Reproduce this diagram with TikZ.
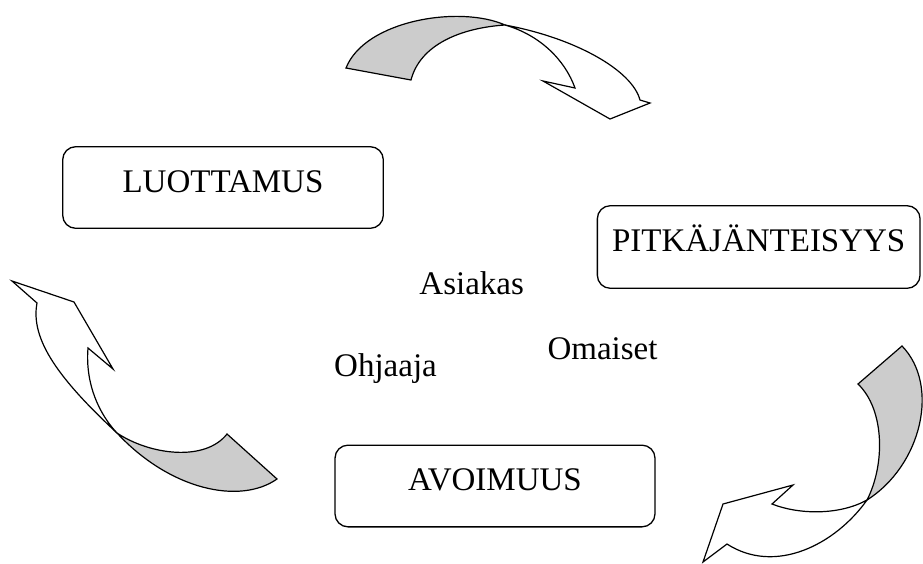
\documentclass[tikz,border=0pt]{standalone}
\usepackage{fontspec}
\setmainfont{Liberation Serif}
\usepackage{tikz}

\begin{document}
\begin{tikzpicture}[x=1pt,y=-1pt,
  every node/.style={font=\fontsize{33}{38}\selectfont},
  valuebox/.style={draw,line width=1.3pt,rounded corners=13pt,text height=21.8pt,text depth=12pt,inner sep=0pt},
  ribbon/.style={draw,fill=white,line width=1.2pt,line join=miter},
  backside/.style={draw,fill=black!20,line width=1.2pt,line join=miter}]
\useasboundingbox (0,0) rectangle (923,563);

% arvot
\node[valuebox,minimum width=320.6pt,minimum height=81.6pt] (luottamus) at (223,187.5) {LUOTTAMUS};
\node[valuebox,minimum width=322.7pt,minimum height=82.6pt] (pitka) at (758.7,247) {PITKÄJÄNTEISYYS};
\node[valuebox,minimum width=320pt,minimum height=81.7pt] (avoimuus) at (495,486) {AVOIMUUS};

% osapuolet
\node[anchor=base] (asiakas) at (471.7,294) {Asiakas};
\node[anchor=base] (omaiset) at (602.5,359.3) {Omaiset};
\node[anchor=base] (ohjaaja) at (385.5,376.7) {Ohjaaja};

% ylanuoli
\draw[ribbon] (505,25) .. controls (575,38) and (632,70) .. (640,100)
  -- (650,103) -- (610,119) -- (543,81) -- (575,88)
  .. controls (565,60) and (540,35) .. (505,25) -- cycle;
\draw[backside] (346,68) .. controls (365,20) and (460,5) .. (505,25)
  .. controls (460,28) and (420,45) .. (411,80) -- cycle;

% oikea nuoli
\draw[ribbon] (867,500) .. controls (835,545) and (775,575) .. (727,544)
  -- (703,562) -- (723,504) -- (793,485) -- (772,504)
  .. controls (800,515) and (840,515) .. (867,500) -- cycle;
\draw[backside] (858,384) -- (902,346) .. controls (940,385) and (922,465) .. (867,500)
  .. controls (885,465) and (885,410) .. (858,384) -- cycle;

% vasen nuoli
\draw[ribbon] (117,433) .. controls (60,380) and (30,340) .. (37,303)
  -- (12,281) -- (74,302) -- (113,369) -- (88,348)
  .. controls (85,385) and (100,415) .. (117,433) -- cycle;
\draw[backside] (117,433) .. controls (150,455) and (205,462) .. (227,434)
  -- (277,479) .. controls (240,505) and (170,490) .. (117,433) -- cycle;
\end{tikzpicture}
\end{document}
